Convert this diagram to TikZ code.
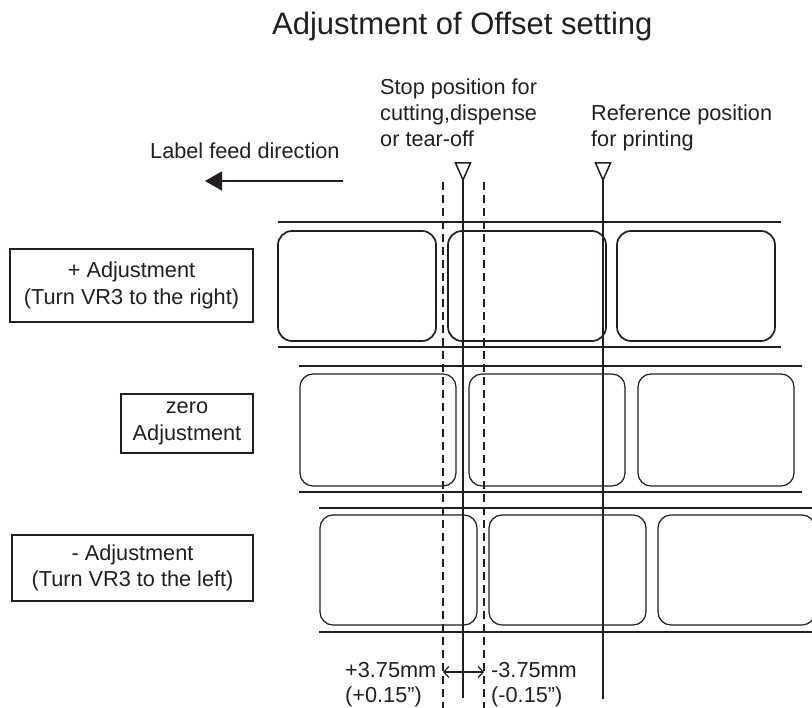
\documentclass[tikz,border=0pt]{standalone}
\usepackage{fontspec}
\setmainfont{Liberation Sans}
\usetikzlibrary{arrows.meta}
\definecolor{ink}{HTML}{231F20}
\begin{document}
\begin{tikzpicture}[x=1pt,y=-1pt,
  every node/.style={inner sep=0pt, text=ink},
  txt/.style={anchor=base west, font=\fontsize{21.7}{26}\selectfont},
  titletxt/.style={anchor=base west, font=\fontsize{31}{36}\selectfont},
  adjbox/.style={draw=ink, line width=1.2pt, align=center, font=\fontsize{21.7}{26.5}\selectfont},
  strip/.style={draw=ink, line width=1.7pt},
  labA/.style={draw=ink, line width=1.7pt, rounded corners=14pt},
  labB/.style={draw=ink, line width=1.25pt, rounded corners=13pt},
  posline/.style={draw=ink, line width=1.6pt},
  dashline/.style={draw=ink, line width=1.4pt, dash pattern=on 8pt off 5pt},
  marker/.style={draw=ink, line width=1.5pt, fill=white}]
\useasboundingbox (0,0) rectangle (812,708);
\begin{scope}
\clip (0,0) rectangle (812,708);

% title
\node[titletxt] (title) at (272,35) {Adjustment of Offset setting};

% feed direction
\node[txt] (feedtxt) at (150,159) {Label feed direction};
\coordinate (feedA) at (343,181);
\coordinate (feedB) at (205,181);
\draw[ink, line width=1.6pt, -{Triangle[length=17pt,width=19pt]}] (feedA) -- (feedB);

% stop position text
\node[txt] (stop1) at (380,95) {Stop position for};
\node[txt] (stop2) at (380,121) {cutting,dispense};
\node[txt] (stop3) at (380,147) {or tear-off};
% reference text
\node[txt] (ref1) at (591,121) {Reference position};
\node[txt] (ref2) at (591,147) {for printing};

% adjustment boxes
\node[adjbox, minimum width=243pt, minimum height=73pt] (bplus) at (131.5,285.5) {+ Adjustment\\(Turn VR3 to the right)};
\node[adjbox, minimum width=132pt, minimum height=59pt] (bzero) at (187,423.5) {zero\\Adjustment};
\node[adjbox, minimum width=241pt, minimum height=66pt] (bminus) at (132.5,568) {- Adjustment\\(Turn VR3 to the left)};

% row 1 (+ adjustment)
\draw[strip] (278,222) -- (781,222);
\draw[strip] (278,347) -- (781,347);
\draw[labA] (278,231) rectangle (436,341);
\draw[labA] (448,231) rectangle (606,341);
\draw[labA] (617,231) rectangle (775,341);

% row 2 (zero)
\draw[strip] (299,366) -- (802,366);
\draw[strip] (299,492) -- (802,492);
\draw[labB] (300,374) rectangle (456,486);
\draw[labB] (469,374) rectangle (625,486);
\draw[labB] (638,374) rectangle (794,486);

% row 3 (- adjustment)
\draw[strip] (319,508) -- (812,508);
\draw[strip] (319,632) -- (812,632);
\draw[labB] (320,515) rectangle (477,625);
\draw[labB] (489,515) rectangle (646,625);
\draw[labB] (658,515) rectangle (815,625);

% dashed offset limits
\coordinate (dLtop) at (443,182);
\coordinate (dLbot) at (443,708);
\coordinate (dRtop) at (484,182);
\coordinate (dRbot) at (484,708);
\draw[dashline] (dLtop) -- (dLbot);
\draw[dashline] (dRtop) -- (dRbot);

% stop position line and marker
\coordinate (stopApex) at (463,180);
\coordinate (stopEnd) at (463,698);
\draw[posline] (stopApex) -- (stopEnd);
\draw[marker] (455.5,163) -- (470.5,163) -- (stopApex) -- cycle;

% reference position line and marker
\coordinate (refApex) at (603,180);
\coordinate (refEnd) at (603,699);
\draw[posline] (refApex) -- (refEnd);
\draw[marker] (595.5,163) -- (610.5,163) -- (refApex) -- cycle;

% dimension
\coordinate (dimL) at (443,672);
\coordinate (dimR) at (484,672);
\draw[ink, line width=1.2pt, {Straight Barb[length=5pt,width=11pt]}-{Straight Barb[length=5pt,width=11pt]}] (dimL) -- (dimR);
\node[txt] (plusmm) at (345,677) {+3.75mm};
\node[txt] (plusin) at (345,702) {(+0.15”)};
\node[txt] (minusmm) at (491,677) {-3.75mm};
\node[txt] (minusin) at (491,702) {(-0.15”)};
\end{scope}
\end{tikzpicture}
\end{document}
